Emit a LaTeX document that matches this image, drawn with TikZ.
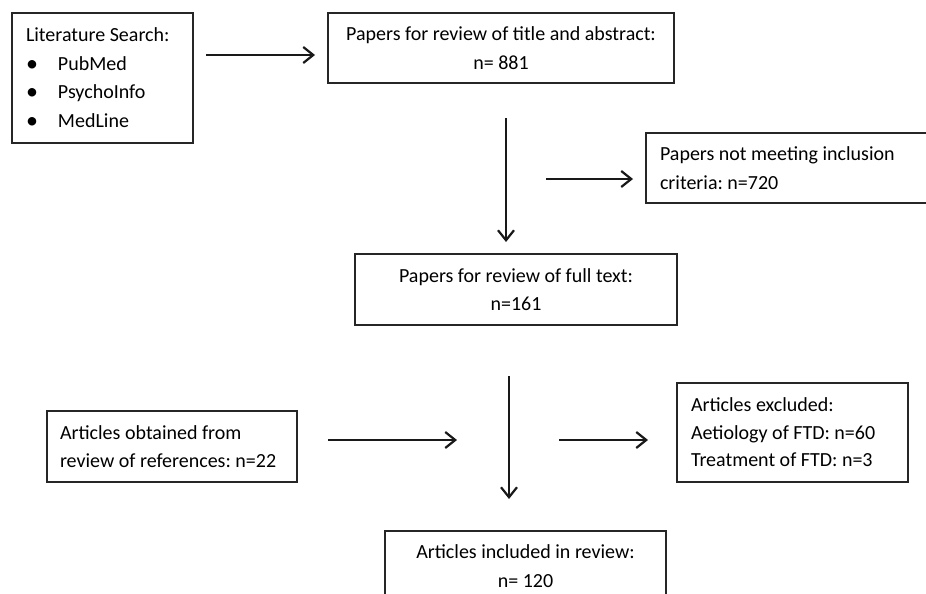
\documentclass[tikz,border=0pt]{standalone}
\usepackage{fontspec}
\setmainfont{Carlito}
\usetikzlibrary{arrows.meta}

\newcommand{\bul}{\makebox[32pt][l]{\raisebox{-1pt}{\fontsize{24}{24}\selectfont\textbullet}}}

\begin{document}
\begin{tikzpicture}[x=1pt,y=-1pt,
    box/.style={draw=black!85, line width=1.2pt, inner sep=0pt,
      font=\fontsize{20}{28.5}\selectfont\frenchspacing},
    flow/.style={line width=2.2pt, black!90,
      -{Straight Barb[length=10pt,width=16pt,line width=2.2pt]}}]
  \useasboundingbox (0,0) rectangle (926,594);
  \clip (0,0) rectangle (926,594);

  % boxes
  \node[box, minimum width=181, minimum height=130, text width=153, align=flush left]
    (search) at (102.5,78) {Literature Search:\\ \bul PubMed\\ \bul PsychoInfo\\ \bul MedLine};
  \node[box, minimum width=346, minimum height=70, align=center]
    (titles) at (501,48) {Papers for review of title and abstract:\\ n= 881};
  \node[box, minimum width=314, minimum height=70, text width=286, align=flush left]
    (notmet) at (803,168) {Papers not meeting inclusion\\ criteria: n=720};
  \node[box, minimum width=322, minimum height=71, align=center]
    (fulltext) at (516,289.5) {Papers for review of full text:\\ n=161};
  \node[box, minimum width=250, minimum height=71, text width=224, align=flush left]
    (refs) at (172,446.5) {Articles obtained from\\ review of references: n=22};
  \node[box, minimum width=231, minimum height=99, text width=203, align=flush left,
    font=\fontsize{20}{27.5}\selectfont\frenchspacing]
    (excluded) at (792.5,432.5) {Articles excluded:\\ Aetiology of FTD: n=60\\ Treatment of FTD: n=3};
  \node[box, minimum width=281, minimum height=70, align=center]
    (included) at (525.5,566) {Articles included in review:\\ n= 120};

  % arrows
  \coordinate (s1) at (206,55);   \coordinate (e1) at (315,55);
  \coordinate (s2) at (506,118);  \coordinate (e2) at (506,242);
  \coordinate (s3) at (546,179);  \coordinate (e3) at (633,179);
  \coordinate (s4) at (509,376);  \coordinate (e4) at (509,499);
  \coordinate (s5) at (328,440);  \coordinate (e5) at (457,440);
  \coordinate (s6) at (559,440);  \coordinate (e6) at (648,440);

  \draw[flow] (s1) -- (e1);
  \draw[flow] (s2) -- (e2);
  \draw[flow] (s3) -- (e3);
  \draw[flow] (s4) -- (e4);
  \draw[flow] (s5) -- (e5);
  \draw[flow] (s6) -- (e6);
\end{tikzpicture}
\end{document}
